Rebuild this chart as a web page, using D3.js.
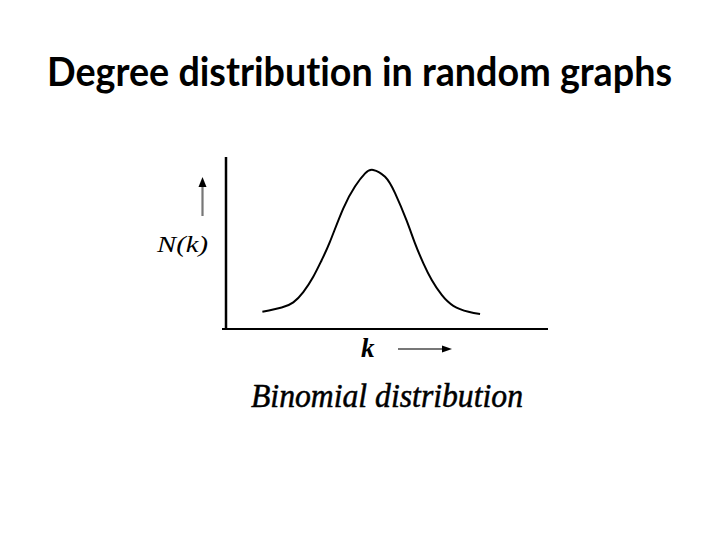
<!DOCTYPE html>
<html>
<head>
<meta charset="utf-8">
<script src="https://cdn.jsdelivr.net/npm/d3@7"></script>
<style>
  html, body { margin: 0; padding: 0; background: #fff; }
  svg { display: block; }
</style>
</head>
<body>
<svg id="chart" width="720" height="540"></svg>
<script>
// ---- data ----
const titleText = "Degree distribution in random graphs";
const xLabel = "k";
const yLabel = "N(k)";
const captionText = "Binomial  distribution";
const kValues = [11.3, 17.3, 20.9, 24.0, 27.1, 29.7, 32.3, 36.4, 40.1, 43.2, 45.7, 49.4, 52.5, 56.1, 58.7, 61.3, 63.9, 67.0, 70.6, 75.3, 78.9];
const nValues = [0.10, 0.125, 0.155, 0.215, 0.304, 0.40, 0.508, 0.70, 0.83, 0.905, 0.925, 0.885, 0.79, 0.63, 0.498, 0.382, 0.285, 0.198, 0.135, 0.10, 0.087];
const kDomain = [0, 100];
const nDomain = [0, 1];

const svg = d3.select("#chart");

// title
svg.append("text")
  .attr("x", 47).attr("y", 86)
  .attr("textLength", 625).attr("lengthAdjust", "spacingAndGlyphs")
  .style("font-family", "Lato, 'Open Sans', sans-serif")
  .style("font-weight", "bold")
  .style("font-size", "40px")
  .style("font-variant-ligatures", "none")
  .attr("fill", "#000")
  .text(titleText);

// scales
const x = d3.scaleLinear().domain(kDomain).range([226, 548]);
const y = d3.scaleLinear().domain(nDomain).range([329, 157]);

// axes (plain lines, no ticks)
svg.append("line")
  .attr("x1", x(0)).attr("x2", x(0))
  .attr("y1", y(1)).attr("y2", y(0) + 1)
  .attr("stroke", "#000").attr("stroke-width", 2.5);
svg.append("line")
  .attr("x1", x(0) - 4).attr("x2", x(100))
  .attr("y1", y(0)).attr("y2", y(0))
  .attr("stroke", "#000").attr("stroke-width", 2.2);

// curve
const pts = kValues.map((k, i) => [k, nValues[i]]);
const line = d3.line()
  .x(d => x(d[0])).y(d => y(d[1]))
  .curve(d3.curveNatural);
svg.append("path")
  .datum(pts)
  .attr("d", line)
  .attr("fill", "none")
  .attr("stroke", "#000")
  .attr("stroke-width", 2);

// y label and up arrow
svg.append("text")
  .attr("x", 157).attr("y", 252)
  .attr("textLength", 51).attr("lengthAdjust", "spacingAndGlyphs")
  .style("font-family", "'Liberation Serif', 'DejaVu Serif', serif")
  .style("font-style", "italic")
  .style("font-size", "24px")
  .attr("fill", "#000")
  .text(yLabel);
svg.append("line")
  .attr("x1", 202.5).attr("x2", 202.5)
  .attr("y1", 216).attr("y2", 186)
  .attr("stroke", "#777").attr("stroke-width", 2.2);
svg.append("path")
  .attr("d", "M202.5,177 L198.5,187 L206.5,187 Z")
  .attr("fill", "#000");

// x label and right arrow
svg.append("text")
  .attr("x", 361).attr("y", 357)
  .style("font-family", "'Liberation Serif', 'DejaVu Serif', serif")
  .style("font-style", "italic")
  .style("font-weight", "bold")
  .style("font-size", "27px")
  .attr("fill", "#000")
  .text(xLabel);
svg.append("line")
  .attr("x1", 398).attr("x2", 443)
  .attr("y1", 349).attr("y2", 349)
  .attr("stroke", "#777").attr("stroke-width", 2.2);
svg.append("path")
  .attr("d", "M452,349 L442,345.5 L442,352.5 Z")
  .attr("fill", "#000");

// caption
svg.append("text")
  .attr("x", 251).attr("y", 407)
  .attr("textLength", 272).attr("lengthAdjust", "spacingAndGlyphs")
  .style("font-family", "'Liberation Serif', 'DejaVu Serif', serif")
  .style("font-style", "italic")
  .style("font-size", "33px")
  .attr("fill", "#000")
  .attr("stroke", "#000").attr("stroke-width", 0.5)
  .text(captionText);
</script>
</body>
</html>
